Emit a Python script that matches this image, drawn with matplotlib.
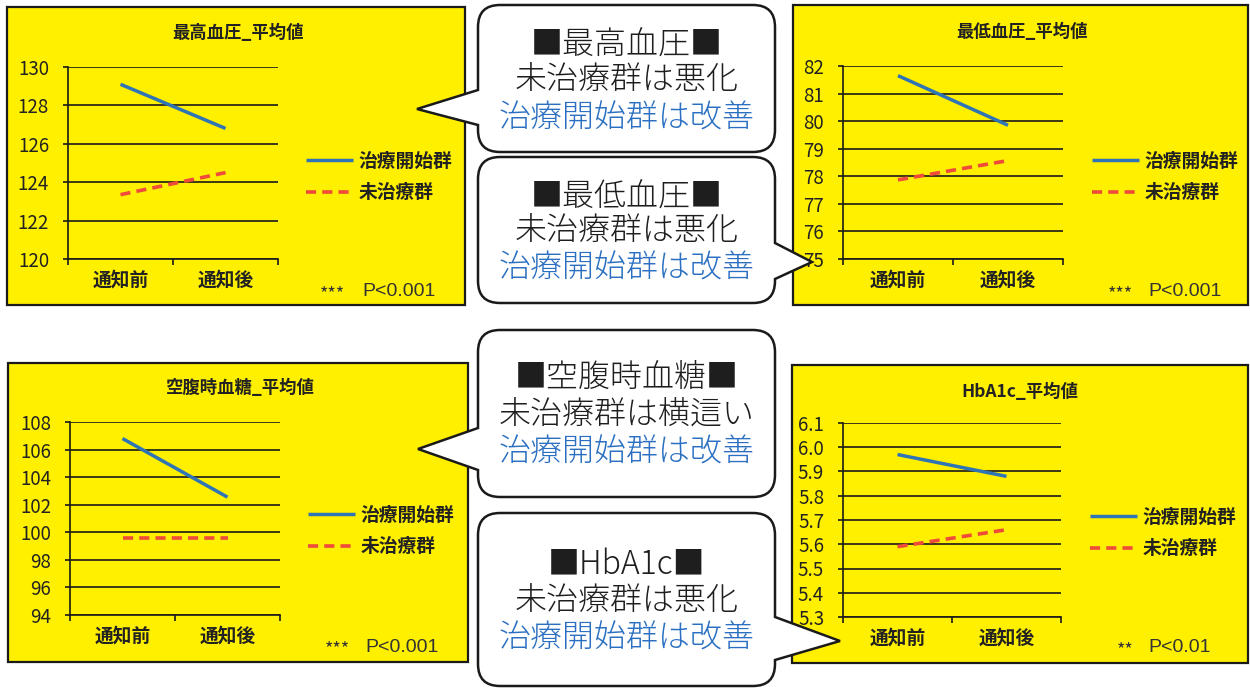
import matplotlib
matplotlib.use("Agg")
import matplotlib.pyplot as plt
from matplotlib.patches import Rectangle, PathPatch
from matplotlib.path import Path
from matplotlib.ticker import FormatStrFormatter

plt.rcParams['font.family'] = ['Noto Sans CJK JP', 'DejaVu Sans']

# data
periods = ['通知前', '通知後']
groups = ['治療開始群', '未治療群']

sbp_treated = [129.1, 126.8]
sbp_untreated = [123.35, 124.5]
dbp_treated = [81.65, 79.85]
dbp_untreated = [77.87, 78.57]
fbs_treated = [106.8, 102.55]
fbs_untreated = [99.55, 99.55]
hba1c_treated = [5.97, 5.88]
hba1c_untreated = [5.59, 5.66]

titles = ['最高血圧_平均値', '最低血圧_平均値', '空腹時血糖_平均値', 'HbA1c_平均値']
pvals = [('***', 'P<0.001'), ('***', 'P<0.001'), ('***', 'P<0.001'), ('**', 'P<0.01')]
yticks = [
    [120, 122, 124, 126, 128, 130],
    [75, 76, 77, 78, 79, 80, 81, 82],
    [94, 96, 98, 100, 102, 104, 106, 108],
    [5.3, 5.4, 5.5, 5.6, 5.7, 5.8, 5.9, 6.0, 6.1],
]
notes = [
    ('■最高血圧■', '未治療群は悪化', '治療開始群は改善'),
    ('■最低血圧■', '未治療群は悪化', '治療開始群は改善'),
    ('■空腹時血糖■', '未治療群は横這い', '治療開始群は改善'),
    ('■HbA1c■', '未治療群は悪化', '治療開始群は改善'),
]
series = [
    (sbp_treated, sbp_untreated),
    (dbp_treated, dbp_untreated),
    (fbs_treated, fbs_untreated),
    (hba1c_treated, hba1c_untreated),
]

W, H = 1250, 688
fig = plt.figure(figsize=(W / 100, H / 100), dpi=100)
fig.patch.set_facecolor('white')


def rect(l, t, r, b):
    return [l / W, 1 - b / H, (r - l) / W, (b - t) / H]


# pixel-space layers: background panels and overlay callouts
bg = fig.add_axes([0, 0, 1, 1], zorder=0)
bg.set_xlim(0, W)
bg.set_ylim(H, 0)
bg.axis('off')

ov = fig.add_axes([0, 0, 1, 1], zorder=3)
ov.set_xlim(0, W)
ov.set_ylim(H, 0)
ov.axis('off')
ov.patch.set_alpha(0)

YELLOW = '#fff000'
BLUE = '#2f74b5'
RED = '#ef4a3a'
INK = '#1a1a1a'

# panel layout: box, plot area, title, legend, p-value positions
panels = [
    dict(box=(7, 7, 465, 305), area=(68, 67, 278, 259), title=(238, 33),
         leg=(306, 177), p=(320, 362, 292)),
    dict(box=(793, 5, 1248, 305), area=(843, 66, 1063, 259), title=(1022, 32),
         leg=(1092, 177), p=(1108, 1148, 292)),
    dict(box=(8, 363, 468, 662), area=(70, 422, 280, 615), title=(240, 388),
         leg=(308, 531), p=(325, 365, 647)),
    dict(box=(792, 365, 1248, 663), area=(843, 423, 1061, 617), title=(1020, 392),
         leg=(1090, 533), p=(1117, 1148, 648)),
]

for i, pn in enumerate(panels):
    l, t, r, b = pn['box']
    bg.add_patch(Rectangle((l, t), r - l, b - t, facecolor=YELLOW,
                           edgecolor=INK, lw=1.6))
    bg.text(pn['title'][0], pn['title'][1], titles[i], ha='center', va='center',
            fontsize=12.5, fontweight='bold', color='#222222')

    ax = fig.add_axes(rect(*pn['area']), zorder=1)
    ax.patch.set_alpha(0)
    treated, untreated = series[i]
    ax.plot([0.5, 1.5], treated, color=BLUE, lw=2.5, label=groups[0],
            solid_capstyle='butt')
    ax.plot([0.5, 1.5], untreated, color=RED, lw=2.6, label=groups[1],
            dashes=(2.8, 1.7))
    ax.set_xlim(0, 2)
    ax.set_ylim(yticks[i][0], yticks[i][-1])
    ax.set_yticks(yticks[i])
    if i == 3:
        ax.yaxis.set_major_formatter(FormatStrFormatter('%.1f'))
    ax.yaxis.grid(True, color=INK, lw=1.2)
    ax.set_axisbelow(True)
    ax.set_xticks([0, 1, 2])
    ax.set_xticklabels([])
    ax.set_xticks([0.5, 1.5], minor=True)
    ax.set_xticklabels(periods, minor=True, fontsize=13.5, fontweight='bold',
                       color='#222222')
    ax.tick_params(axis='x', which='minor', length=0, pad=8)
    ax.tick_params(axis='x', which='major', length=4, width=1.2, color=INK)
    ax.tick_params(axis='y', length=3.6, width=1.2, color=INK,
                   labelsize=13.5, labelcolor='#222222', pad=10)
    for s in ['top', 'right']:
        ax.spines[s].set_visible(False)
    for s in ['left', 'bottom']:
        ax.spines[s].set_color(INK)
        ax.spines[s].set_linewidth(1.2)

    ax.legend(loc='center left', bbox_to_anchor=pn['leg'],
              bbox_transform=bg.transData, frameon=False, borderpad=0,
              borderaxespad=0, handlelength=2.5, handletextpad=0.3,
              labelspacing=0.65, prop={'size': 13.5, 'weight': 'bold'},
              labelcolor='#222222')

    sx, px_, py = pn['p']
    bg.text(sx, py + 2, pvals[i][0], ha='left', va='center', fontsize=13,
            color='#333333')
    bg.text(px_, py, pvals[i][1], ha='left', va='center', fontsize=14,
            color='#333333', family=['Liberation Sans', 'DejaVu Sans'])


def bubble_path(l, t, r, b, side, tip, y0, y1, rad=22):
    verts = [(l + rad, t), (r - rad, t), (r, t), (r, t + rad)]
    codes = [Path.MOVETO, Path.LINETO, Path.CURVE3, Path.CURVE3]
    if side == 'right':
        verts += [(r, y0), tip, (r, y1)]
        codes += [Path.LINETO] * 3
    verts += [(r, b - rad), (r, b), (r - rad, b), (l + rad, b), (l, b), (l, b - rad)]
    codes += [Path.LINETO, Path.CURVE3, Path.CURVE3, Path.LINETO, Path.CURVE3, Path.CURVE3]
    if side == 'left':
        verts += [(l, y1), tip, (l, y0)]
        codes += [Path.LINETO] * 3
    verts += [(l, t + rad), (l, t), (l + rad, t), (l + rad, t)]
    codes += [Path.LINETO, Path.CURVE3, Path.CURVE3, Path.CLOSEPOLY]
    return Path(verts, codes)


bubbles = [
    dict(box=(478, 5, 775, 152), side='left', tip=(417, 109), y=(90, 125),
         lines=(45, 81, 118)),
    dict(box=(478, 157, 775, 303), side='right', tip=(812, 262), y=(243, 279),
         lines=(197, 232, 268)),
    dict(box=(478, 330, 775, 497), side='left', tip=(418, 449), y=(428, 470),
         lines=(378, 415, 452)),
    dict(box=(478, 513, 775, 686), side='right', tip=(840, 641), y=(617, 660),
         lines=(565, 602, 638)),
]

for i, bb in enumerate(bubbles):
    l, t, r, b = bb['box']
    path = bubble_path(l, t, r, b, bb['side'], bb['tip'], *bb['y'])
    ov.add_patch(PathPatch(path, facecolor='white', edgecolor=INK,
                           lw=1.8, joinstyle='miter'))
    cx = (l + r) / 2
    y1, y2, y3 = bb['lines']
    ov.text(cx, y1, notes[i][0], ha='center', va='center', fontsize=23,
            fontweight='light', color='#1e1e1e')
    ov.text(cx, y2, notes[i][1], ha='center', va='center', fontsize=23,
            fontweight='light', color='#1e1e1e')
    ov.text(cx, y3, notes[i][2], ha='center', va='center', fontsize=23,
            fontweight='light', color='#2a6fc1')

fig.savefig('out.png', dpi=100)
